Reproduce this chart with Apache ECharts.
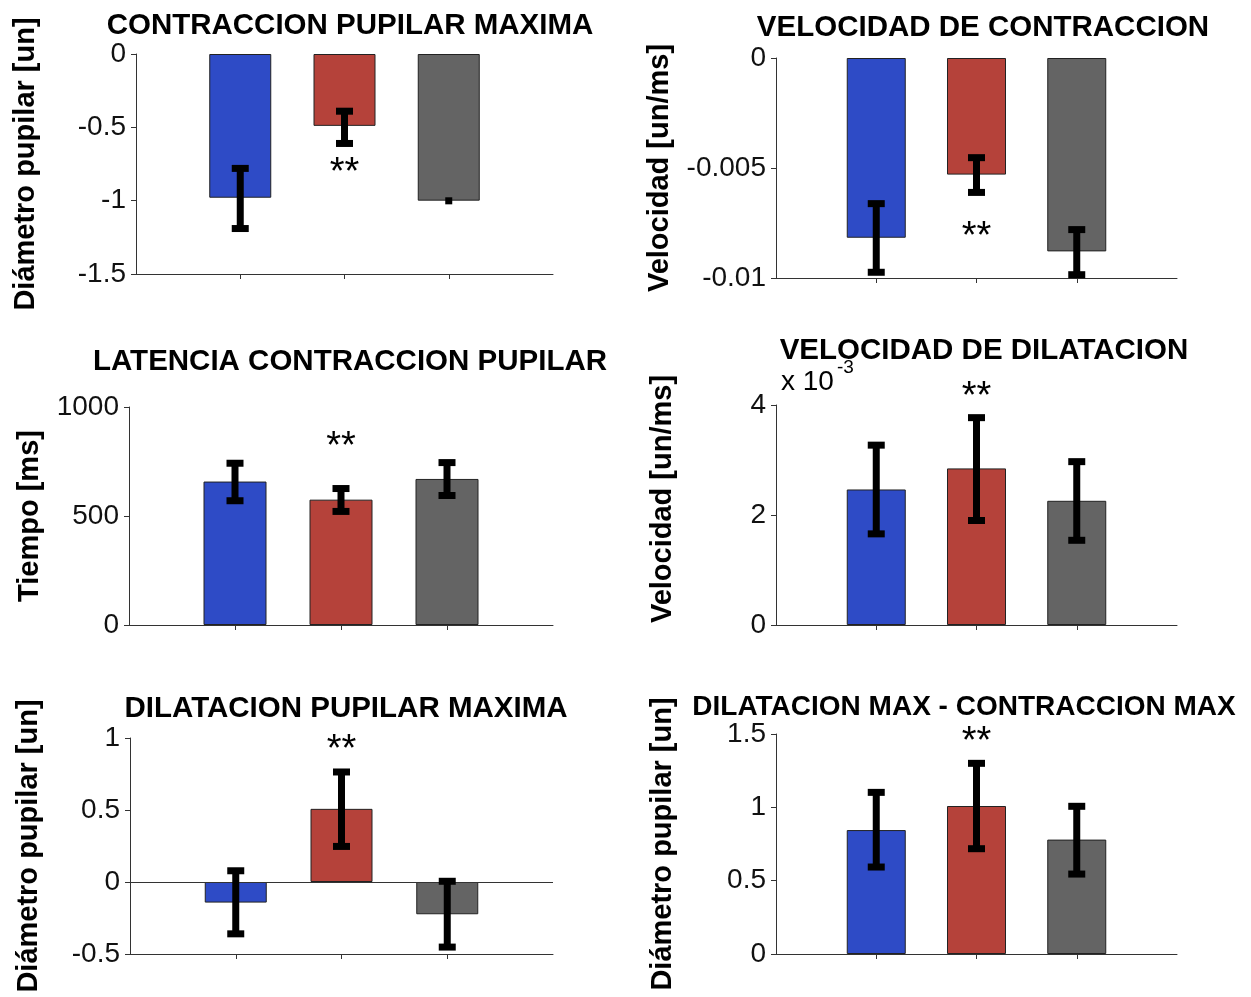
<!DOCTYPE html>
<html>
<head>
<meta charset="utf-8">
<script src="https://cdn.jsdelivr.net/npm/echarts@6/dist/echarts.min.js"></script>
<style>
  html, body { margin: 0; padding: 0; background: #fff; }
  #chart { width: 1251px; height: 997px; }
</style>
</head>
<body>
<div id="chart"></div>
<script>
// ---------- data ----------
const groupPositions = [1, 2, 3];
const groupColors = ['#2e4bc6', '#b5423a', '#646464'];

// Panel 1: CONTRACCION PUPILAR MAXIMA
const contraccionMax = [-0.98, -0.49, -1.00];
const contraccionMaxHi = [-0.78, -0.39, -0.977];
const contraccionMaxLo = [-1.19, -0.61, -1.025];
const contraccionMaxStars = [[2, -0.757]];
const contraccionMaxTicks = [-1.5, -1, -0.5, 0];

// Panel 2: VELOCIDAD DE CONTRACCION
const velContraccion = [-0.00817, -0.0053, -0.00879];
const velContraccionHi = [-0.00662, -0.00453, -0.0078];
const velContraccionLo = [-0.00974, -0.00611, -0.00985];
const velContraccionStars = [[2, -0.00777]];
const velContraccionTicks = [-0.01, -0.005, 0];

// Panel 3: LATENCIA CONTRACCION PUPILAR
const latencia = [658, 575, 670];
const latenciaHi = [742, 626, 745];
const latenciaLo = [570, 521, 594];
const latenciaStars = [[2, 854]];
const latenciaTicks = [0, 500, 1000];

// Panel 4: VELOCIDAD DE DILATACION (un/ms)
const velDilatacion = [0.002464, 0.002847, 0.002258];
const velDilatacionHi = [0.00327, 0.00377, 0.00297];
const velDilatacionLo = [0.001657, 0.0019, 0.00154];
const velDilatacionStars = [[2, 0.0043]];
const velDilatacionTicks = [0, 0.002, 0.004];

// Panel 5: DILATACION PUPILAR MAXIMA
const dilatacionMax = [-0.143, 0.508, -0.224];
const dilatacionMaxHi = [0.078, 0.764, 0.005];
const dilatacionMaxLo = [-0.36, 0.247, -0.452];
const dilatacionMaxStars = [[2, 0.974]];
const dilatacionMaxTicks = [-0.5, 0, 0.5, 1];

// Panel 6: DILATACION MAX - CONTRACCION MAX
const difMax = [0.845, 1.009, 0.78];
const difMaxHi = [1.102, 1.30, 1.007];
const difMaxLo = [0.593, 0.718, 0.545];
const difMaxStars = [[2, 1.502]];
const difMaxTicks = [0, 0.5, 1, 1.5];

// ---------- layout ----------
const FONT = 'Liberation Sans, Arial, Helvetica, sans-serif';
const panels = [
  { title: 'CONTRACCION PUPILAR MAXIMA', tx: 345, ty: 21, tfs: 29.5,
    grid: { left: 136, top: 54, width: 417, height: 220 },
    values: contraccionMax, hi: contraccionMaxHi, lo: contraccionMaxLo, stars: contraccionMaxStars,
    ticks: contraccionMaxTicks, name: 'Diámetro pupilar [un]', nameGap: 97, fmt: v => String(v) },
  { title: 'VELOCIDAD DE CONTRACCION', tx: 978, ty: 23, tfs: 29.5,
    grid: { left: 776, top: 58, width: 401, height: 220 },
    values: velContraccion, hi: velContraccionHi, lo: velContraccionLo, stars: velContraccionStars,
    ticks: velContraccionTicks, name: 'Velocidad [un/ms]', nameGap: 103, fmt: v => String(+v.toFixed(4)) },
  { title: 'LATENCIA CONTRACCION PUPILAR', tx: 345, ty: 357, tfs: 29.5,
    grid: { left: 129, top: 407, width: 424, height: 218 },
    values: latencia, hi: latenciaHi, lo: latenciaLo, stars: latenciaStars,
    ticks: latenciaTicks, name: 'Tiempo [ms]', nameGap: 86, fmt: v => String(v) },
  { title: 'VELOCIDAD DE DILATACION', tx: 979, ty: 346, tfs: 29.5,
    grid: { left: 776, top: 405, width: 401, height: 220 },
    values: velDilatacion, hi: velDilatacionHi, lo: velDilatacionLo, stars: velDilatacionStars,
    ticks: velDilatacionTicks, name: 'Velocidad [un/ms]', nameGap: 100, namePadLeft: 32,
    fmt: v => String(Math.round(v * 1e6) / 1e3) },
  { title: 'DILATACION PUPILAR MAXIMA', tx: 341, ty: 704, tfs: 29.5,
    grid: { left: 130, top: 738, width: 423, height: 216 },
    values: dilatacionMax, hi: dilatacionMaxHi, lo: dilatacionMaxLo, stars: dilatacionMaxStars,
    ticks: dilatacionMaxTicks, name: 'Diámetro pupilar [un]', nameGap: 88, zeroLine: true, fmt: v => String(v) },
  { title: 'DILATACION MAX - CONTRACCION MAX', tx: 959, ty: 702, tfs: 28,
    grid: { left: 776, top: 734, width: 401, height: 220 },
    values: difMax, hi: difMaxHi, lo: difMaxLo, stars: difMaxStars,
    ticks: difMaxTicks, name: 'Diámetro pupilar [un]', nameGap: 100, fmt: v => String(v) }
];

function errorRender(params, api) {
  const x = api.value(0), lo = api.value(1), hi = api.value(2);
  const pHi = api.coord([x, hi]);
  const pLo = api.coord([x, lo]);
  const stem = 7, capW = 17, capH = 7;
  const span = pLo[1] - pHi[1];
  const children = [
    { type: 'rect', shape: { x: pHi[0] - stem / 2, y: pHi[1], width: stem, height: span }, style: { fill: '#000' } }
  ];
  if (span > 2 * capH) {
    children.push({ type: 'rect', shape: { x: pHi[0] - capW / 2, y: pHi[1] - capH / 2, width: capW, height: capH }, style: { fill: '#000' } });
    children.push({ type: 'rect', shape: { x: pLo[0] - capW / 2, y: pLo[1] - capH / 2, width: capW, height: capH }, style: { fill: '#000' } });
  }
  return { type: 'group', children: children };
}

function starRender(params, api) {
  const p = api.coord([api.value(0), api.value(1)]);
  const fs = 38;
  return {
    type: 'text',
    x: p[0], y: p[1] + fs * 0.23,
    style: { text: '**', font: fs + 'px ' + FONT, fill: '#000', align: 'center', verticalAlign: 'middle' }
  };
}

const option = {
  animation: false,
  backgroundColor: '#fff',
  title: [], grid: [], xAxis: [], yAxis: [], series: [],
  graphic: [
    { type: 'text', left: 781, top: 368, style: { text: 'x 10', font: '28px ' + FONT, fill: '#000' } },
    { type: 'text', left: 837, top: 358, style: { text: '-3', font: '19px ' + FONT, fill: '#000' } }
  ]
};

panels.forEach((p, i) => {
  const ticks = p.ticks;
  const min = ticks[0], max = ticks[ticks.length - 1], interval = ticks[1] - ticks[0];
  option.title.push({
    text: p.title, left: p.tx, top: p.ty, textAlign: 'center', textVerticalAlign: 'middle',
    textStyle: { fontFamily: FONT, fontSize: p.tfs, fontWeight: 'bold', color: '#000' }
  });
  option.grid.push(Object.assign({ containLabel: false }, p.grid));
  option.xAxis.push({
    type: 'value', gridIndex: i, min: 0, max: 4, interval: 1,
    axisLine: { show: true, onZero: false, lineStyle: { color: '#333', width: 1 } },
    axisTick: { show: true, customValues: groupPositions, length: 5, lineStyle: { color: '#333' } },
    axisLabel: { show: false },
    splitLine: { show: false }
  });
  option.yAxis.push({
    type: 'value', gridIndex: i, min: min, max: max, interval: interval,
    axisLine: { show: true, onZero: false, lineStyle: { color: '#333', width: 1 } },
    axisTick: { show: true, length: 5, lineStyle: { color: '#333' } },
    axisLabel: { fontFamily: FONT, fontSize: 28, color: '#111', margin: 10, formatter: p.fmt },
    splitLine: { show: false },
    name: p.name, nameLocation: 'middle', nameGap: p.nameGap - 1, nameRotate: 90,
    nameTextStyle: { fontFamily: FONT, fontSize: 29, fontWeight: 'bold', color: '#000',
      padding: p.namePadLeft ? [0, 0, 0, p.namePadLeft] : 0 }
  });
  const barW = Math.round(p.grid.width / 4 * 0.59);
  const barSeries = {
    type: 'bar', xAxisIndex: i, yAxisIndex: i, barWidth: barW,
    data: groupPositions.map((x, k) => ({
      value: [x, p.values[k]],
      itemStyle: { color: groupColors[k], borderColor: '#222', borderWidth: 1 }
    })),
    z: 2
  };
  if (p.zeroLine) {
    barSeries.markLine = {
      silent: true, symbol: 'none', label: { show: false },
      lineStyle: { color: '#333', width: 1, type: 'solid' },
      data: [{ yAxis: 0 }]
    };
  }
  option.series.push(barSeries);
  option.series.push({
    type: 'custom', xAxisIndex: i, yAxisIndex: i, renderItem: errorRender,
    encode: { x: 0, y: [1, 2] },
    data: groupPositions.map((x, k) => [x, p.lo[k], p.hi[k]]),
    z: 5
  });
  option.series.push({
    type: 'custom', xAxisIndex: i, yAxisIndex: i, renderItem: starRender,
    encode: { x: 0, y: 1 },
    data: p.stars,
    z: 6
  });
});

const chart = echarts.init(document.getElementById('chart'), null, { renderer: 'canvas' });
chart.setOption(option);
</script>
</body>
</html>
